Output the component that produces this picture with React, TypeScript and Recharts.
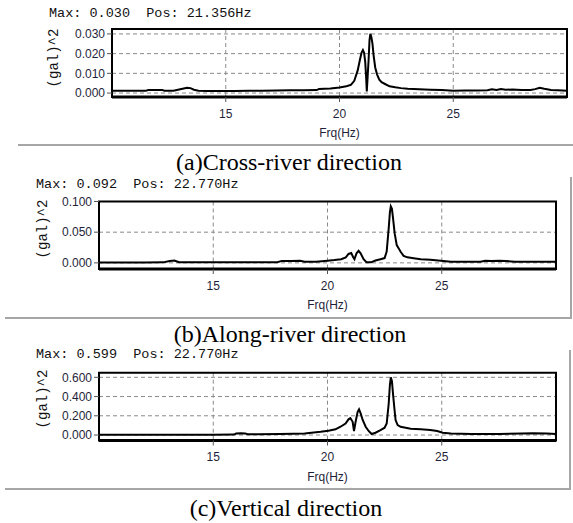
import React from 'react';
import { LineChart, Line, XAxis, YAxis, CartesianGrid, ReferenceArea } from 'recharts';

// spectra (frequency in Hz, amplitude in gal^2)
const freqA = [
  10.0, 10.5, 11.0, 11.5, 11.6, 12.0, 12.2, 12.3, 12.7, 12.9,
  13.1, 13.3, 13.45, 13.6, 13.8, 14.2, 14.8, 15.4, 16.0, 16.6,
  17.2, 17.8, 18.4, 19.0, 19.1, 19.6, 20.0, 20.3, 20.5, 20.65,
  20.8, 20.9, 20.97, 21.03, 21.08, 21.13, 21.17, 21.2, 21.24, 21.28,
  21.32, 21.356, 21.4, 21.45, 21.5, 21.57, 21.65, 21.75, 21.85, 22.0,
  22.2, 22.45, 22.7, 23.0, 23.5, 24.0, 24.5, 25.0, 25.5, 26.0,
  26.5, 26.7, 26.9, 27.1, 27.3, 27.6, 28.0, 28.4, 28.6, 28.8,
  29.0, 29.3, 29.6, 30.0,
];
const ampA = [
  0.0012, 0.0012, 0.0012, 0.0012, 0.0016, 0.0016, 0.0016, 0.0012, 0.0012, 0.0017,
  0.0022, 0.0027, 0.0025, 0.0017, 0.0012, 0.0011, 0.0011, 0.0011, 0.0012, 0.0012,
  0.0013, 0.0014, 0.0014, 0.0015, 0.0021, 0.0023, 0.0028, 0.0034, 0.0042, 0.0062,
  0.0115, 0.017, 0.0205, 0.0218, 0.0205, 0.016, 0.008, 0.0008, 0.009, 0.017,
  0.027, 0.03, 0.0285, 0.025, 0.019, 0.013, 0.0095, 0.0068, 0.0055, 0.0046,
  0.0034, 0.0029, 0.0025, 0.0022, 0.0019, 0.0017, 0.0015, 0.0012, 0.0013, 0.0013,
  0.0014, 0.0019, 0.0016, 0.002, 0.0017, 0.0018, 0.0015, 0.0015, 0.002, 0.0027,
  0.0022, 0.0016, 0.0014, 0.0012,
];

const freqB = [
  10.0, 11.0, 12.0, 12.8, 13.1, 13.3, 13.5, 14.0, 15.0, 16.0,
  17.0, 17.8, 18.0, 18.4, 18.8, 19.0, 19.5, 20.0, 20.3, 20.6,
  20.8, 20.92, 21.04, 21.12, 21.18, 21.27, 21.36, 21.45, 21.58, 21.71,
  21.9, 22.1, 22.32, 22.5, 22.59, 22.68, 22.73, 22.77, 22.82, 22.87,
  22.94, 23.03, 23.11, 23.2, 23.33, 23.5, 23.77, 24.08, 24.5, 24.96,
  25.4, 26.0, 26.7, 26.9, 27.2, 27.5, 27.8, 28.2, 29.0, 30.0,
];
const ampB = [
  0.0006, 0.0006, 0.0007, 0.0008, 0.003, 0.0038, 0.001, 0.0008, 0.0008, 0.0009,
  0.001, 0.0012, 0.0032, 0.003, 0.0034, 0.0018, 0.002, 0.0035, 0.0045, 0.006,
  0.009, 0.0145, 0.016, 0.0095, 0.006, 0.0155, 0.0195, 0.0155, 0.006, 0.0008,
  0.0008, 0.0038, 0.006, 0.0078, 0.0185, 0.057, 0.082, 0.092, 0.088, 0.072,
  0.048, 0.029, 0.024, 0.018, 0.0115, 0.009, 0.0076, 0.006, 0.0049, 0.0033,
  0.002, 0.0018, 0.002, 0.0035, 0.0032, 0.0036, 0.003, 0.002, 0.0019, 0.0018,
];

const freqC = [
  10.0, 11.0, 12.0, 13.0, 14.0, 15.0, 15.9, 16.0, 16.2, 16.4,
  16.5, 17.0, 17.9, 18.5, 19.0, 19.3, 19.7, 20.04, 20.35, 20.57,
  20.79, 20.92, 21.0, 21.1, 21.16, 21.23, 21.32, 21.38, 21.45, 21.54,
  21.67, 21.8, 21.93, 22.1, 22.32, 22.5, 22.59, 22.68, 22.73, 22.77,
  22.82, 22.87, 22.92, 22.98, 23.07, 23.2, 23.42, 23.64, 24.08, 24.5,
  24.8, 25.04, 25.4, 26.3, 27.5, 28.5, 29.0, 29.6, 30.0,
];
const ampC = [
  0.003, 0.003, 0.003, 0.003, 0.004, 0.004, 0.005, 0.016, 0.018, 0.017,
  0.008, 0.009, 0.01, 0.012, 0.015, 0.024, 0.034, 0.045, 0.059, 0.086,
  0.12, 0.163, 0.176, 0.138, 0.042, 0.138, 0.242, 0.267, 0.225, 0.156,
  0.086, 0.042, 0.01, 0.024, 0.052, 0.076, 0.12, 0.33, 0.52, 0.599,
  0.56, 0.42, 0.294, 0.156, 0.104, 0.086, 0.076, 0.066, 0.059, 0.052,
  0.042, 0.024, 0.017, 0.01, 0.01, 0.016, 0.018, 0.017, 0.01,
];

const freqTicks = [15, 20, 25];
const ticksA = [0, 0.01, 0.02, 0.03];
const ticksB = [0, 0.05, 0.1];
const ticksC = [0, 0.2, 0.4, 0.6];

const zip = (f: number[], a: number[]) => f.map((x, i) => ({ f: x, v: a[i] }));

const tickFont = { fontSize: 12, fill: '#1f1f3a', fontFamily: 'Liberation Sans, Arial, sans-serif' };
const monoFont = '"Liberation Mono", "DejaVu Sans Mono", monospace';

interface PanelProps {
  data: { f: number; v: number }[];
  yTicks: number[];
  yDomain: [number, number];
  top: number;
  height: number;
  marginTop: number;
  yWidth: number;
  marginRight: number;
}

const Panel = ({ data, yTicks, yDomain, top, height, marginTop, yWidth, marginRight }: PanelProps) => (
  <div style={{ position: 'absolute', left: 0, top }}>
    <LineChart
      width={573}
      height={height + 6}
      data={data}
      margin={{ top: marginTop, right: marginRight, left: 0, bottom: 6 }}
    >
      <CartesianGrid stroke="#8a8a8a" strokeDasharray="4 3" />
      <XAxis
        type="number"
        dataKey="f"
        domain={[10, 30]}
        ticks={freqTicks}
        interval={0}
        allowDataOverflow
        height={42}
        tickSize={5}
        tickMargin={7}
        tick={tickFont}
        tickLine={{ stroke: '#555' }}
        axisLine={{ stroke: '#000', strokeWidth: 3 }}
        label={{ value: 'Frq(Hz)', position: 'insideBottom', offset: 2, ...tickFont }}
      />
      <YAxis
        type="number"
        domain={yDomain}
        ticks={yTicks}
        interval={0}
        allowDataOverflow
        width={yWidth}
        tickSize={5}
        tickMargin={2}
        tick={tickFont}
        tickLine={{ stroke: '#555' }}
        axisLine={{ stroke: '#000', strokeWidth: 2 }}
        tickFormatter={(v: number) => v.toFixed(3)}
      />
      <ReferenceArea
        x1={10}
        x2={30}
        y1={yDomain[0]}
        y2={yDomain[1]}
        fill="none"
        stroke="#000"
        strokeWidth={2}
        ifOverflow="visible"
      />
      <Line
        type="linear"
        dataKey="v"
        stroke="#000"
        strokeWidth={2}
        dot={false}
        isAnimationActive={false}
      />
    </LineChart>
  </div>
);

const Header = ({ text, left, top }: { text: string; left: number; top: number }) => (
  <div style={{ position: 'absolute', left, top, fontFamily: monoFont, fontSize: 13.5, lineHeight: '16px', whiteSpace: 'pre', color: '#111' }}>
    {text}
  </div>
);

const YLabel = ({ cx, cy }: { cx: number; cy: number }) => (
  <div
    style={{
      position: 'absolute', left: cx - 40, top: cy - 8, width: 80, height: 16,
      lineHeight: '16px', textAlign: 'center', transform: 'rotate(-90deg)',
      fontFamily: monoFont, fontSize: 14, color: '#111',
    }}
  >
    (gal)^2
  </div>
);

const Caption = ({ text, cx, cy }: { text: string; cx: number; cy: number }) => (
  <div
    style={{
      position: 'absolute', left: cx - 200, top: cy - 14, width: 400, height: 28,
      lineHeight: '28px', textAlign: 'center',
      fontFamily: '"Liberation Serif", "Times New Roman", serif', fontSize: 24, color: '#000',
    }}
  >
    {text}
  </div>
);

const frameLine = (left: number, top: number, width: number, height: number) => (
  <div style={{ position: 'absolute', left, top, width, height, background: '#a6a6a6' }} />
);

export default function App() {
  return (
    <div style={{ position: 'absolute', left: 0, top: 0, width: 573, height: 523, background: '#fff', overflow: 'hidden' }}>
      {/* (a) */}
      <Header text="Max: 0.030  Pos: 21.356Hz" left={49} top={6} />
      <YLabel cx={54} cy={58} />
      <Panel data={zip(freqA, ampA)} yTicks={ticksA} yDomain={[-0.002, 0.0325]} top={0} height={139} marginTop={29} yWidth={112} marginRight={6} />
      {frameLine(18, 144, 555, 2)}
      <Caption text="(a)Cross-river direction" cx={289} cy={162} />

      {/* (b) */}
      <Header text="Max: 0.092  Pos: 22.770Hz" left={36} top={177} />
      <YLabel cx={42.5} cy={229} />
      <Panel data={zip(freqB, ampB)} yTicks={ticksB} yDomain={[-0.01, 0.1]} top={170} height={141} marginTop={31.5} yWidth={99} marginRight={17} />
      {frameLine(570, 177, 2, 142)}
      {frameLine(5, 317, 567, 2)}
      <Caption text="(b)Along-river direction" cx={290} cy={334} />

      {/* (c) */}
      <Header text="Max: 0.599  Pos: 22.770Hz" left={36} top={347} />
      <YLabel cx={42.5} cy={399} />
      <Panel data={zip(freqC, ampC)} yTicks={ticksC} yDomain={[-0.057, 0.648]} top={340} height={142.5} marginTop={32.7} yWidth={99} marginRight={17} />
      {frameLine(569, 350, 2, 139)}
      {frameLine(5, 488, 566, 2)}
      <Caption text="(c)Vertical direction" cx={286} cy={508} />
    </div>
  );
}
